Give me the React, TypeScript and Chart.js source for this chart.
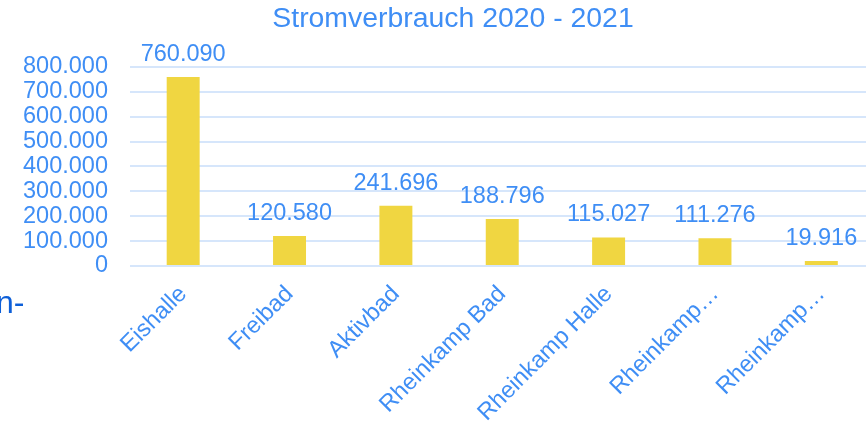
import React, { useEffect, useRef } from "react";
import { Chart, registerables } from "chart.js";

Chart.register(...registerables);

const TITLE = "Stromverbrauch 2020 - 2021";
const categories = [
  "Eishalle",
  "Freibad",
  "Aktivbad",
  "Rheinkamp Bad",
  "Rheinkamp Halle",
  "Rheinkamp…",
  "Rheinkamp…",
];
const values = [760090, 120580, 241696, 188796, 115027, 111276, 19916];
const yMin = 0;
const yMax = 800000;
const yStep = 100000;
const sideText = "n-";

const FONT = '"Liberation Sans", Arial, sans-serif';
const BLUE = "#3f8ef5";
const BAR = "#f0d641";
const GRID = "#d6e6fb";

const fmt = (v: number) =>
  String(Math.round(v)).replace(/\B(?=(\d{3})+(?!\d))/g, ".");

const dataLabels = {
  id: "dataLabels",
  afterDatasetsDraw(chart: any) {
    const ctx = chart.ctx;
    const meta = chart.getDatasetMeta(0);
    const ds = chart.data.datasets[0].data as number[];
    ctx.save();
    ctx.font = `23.5px ${FONT}`;
    ctx.fillStyle = BLUE;
    ctx.textAlign = "center";
    ctx.textBaseline = "alphabetic";
    meta.data.forEach((el: any, i: number) => {
      ctx.fillText(fmt(ds[i]), el.x, el.y - 16);
    });
    ctx.restore();
  },
};

export default function App() {
  const ref = useRef<HTMLCanvasElement>(null);
  useEffect(() => {
    if (!ref.current) return;
    const chart = new Chart(ref.current, {
      type: "bar",
      data: {
        labels: categories,
        datasets: [
          {
            data: values,
            backgroundColor: BAR,
            borderWidth: 0,
            barPercentage: 0.31,
            categoryPercentage: 1,
          },
        ],
      },
      options: {
        responsive: false,
        animation: false,
        devicePixelRatio: 1,
        layout: { padding: 0 },
        plugins: {
          legend: { display: false },
          tooltip: { enabled: false },
          title: {
            display: true,
            text: TITLE,
            color: BLUE,
            font: { family: FONT, size: 28.4, weight: "normal" as any, lineHeight: 1.2 },
            padding: { top: 2, bottom: 30.9 },
          },
        },
        scales: {
          x: {
            grid: { display: false, drawTicks: false },
            border: { display: false },
            ticks: {
              color: BLUE,
              font: { family: FONT, size: 23.5, lineHeight: 1 },
              maxRotation: 45,
              minRotation: 45,
              autoSkip: false,
              padding: 16,
            },
            afterFit: (s: any) => {
              s.height = 158;
            },
          },
          y: {
            min: yMin,
            max: yMax,
            grid: { color: GRID, lineWidth: 2, drawTicks: false },
            border: { display: false },
            ticks: {
              stepSize: yStep,
              autoSkip: false,
              color: BLUE,
              font: { family: FONT, size: 23.5, lineHeight: 1 },
              padding: 22,
              callback: (v: any) => fmt(Number(v)),
            },
            afterFit: (s: any) => {
              s.width = 130;
            },
          },
          yRight: {
            type: "linear",
            position: "right",
            display: true,
            grid: { display: false, drawTicks: false },
            border: { display: false },
            ticks: { display: false },
            afterFit: (s: any) => {
              s.width = 31.5;
            },
          },
        },
      },
      plugins: [dataLabels],
    });
    return () => chart.destroy();
  }, []);

  return (
    <div
      style={{
        position: "fixed",
        left: 0,
        top: 0,
        width: 866,
        height: 424,
        overflow: "hidden",
        background: "#ffffff",
      }}
    >
      <canvas
        ref={ref}
        width={906}
        height={424}
        style={{ position: "absolute", left: 0, top: 0, width: 906, height: 424 }}
      />
      <div
        style={{
          position: "absolute",
          left: -4,
          top: 286,
          fontFamily: FONT,
          fontSize: 32,
          lineHeight: "32px",
          color: "#0d5fd8",
          whiteSpace: "nowrap",
        }}
      >
        {sideText}
      </div>
    </div>
  );
}
